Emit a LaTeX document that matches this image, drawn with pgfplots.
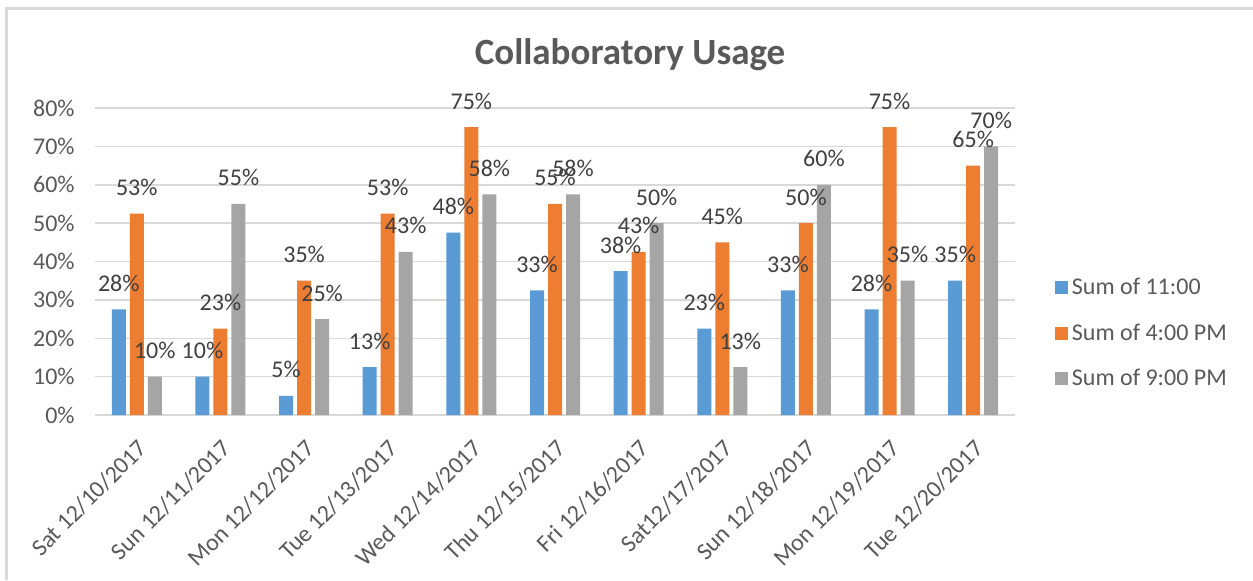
\documentclass[border=0pt]{standalone}
\usepackage{fontspec}
\setmainfont{Carlito}
\usepackage{pgfplots}
\pgfplotsset{compat=1.18}
\usepackage{pgfplotstable}
\definecolor{cblue}{HTML}{5B9BD5}
\definecolor{corange}{HTML}{ED7D31}
\definecolor{cgray}{HTML}{A5A5A5}
\definecolor{gridc}{HTML}{D9D9D9}
\definecolor{tickc}{HTML}{595959}
\definecolor{labc}{HTML}{404040}
\pgfplotstableread{
x a b c
0 27.5 52.5 10
1 10 22.5 55
2 5 35 25
3 12.5 52.5 42.5
4 47.5 75 57.5
5 32.5 55 57.5
6 37.5 42.5 50
7 22.5 45 12.5
8 32.5 50 60
9 27.5 75 35
10 35 65 70
}\data
\begin{document}
\begin{tikzpicture}
\path[use as bounding box] (0pt,0pt) rectangle (626.5pt,290pt);
\draw[gridc, line width=1.2pt] (3.25pt,0pt) -- (3.25pt,285.75pt) -- (626.5pt,285.75pt);
\node[font=\fontsize{18.5}{22}\selectfont\bfseries, text=tickc] at (315pt,262.5pt) {Collaboratory Usage};
\begin{axis}[
  at={(47.5pt,82.5pt)}, anchor=south west,
  scale only axis, width=460pt, height=153.5pt,
  ybar=2pt, bar width=7pt,
  xmin=-0.5, xmax=10.5, ymin=0, ymax=80,
  xtick=data,
  xticklabels={Sat 12/10/2017, Sun 12/11/2017, Mon 12/12/2017, Tue 12/13/2017, Wed 12/14/2017, Thu 12/15/2017, Fri 12/16/2017, Sat12/17/2017, Sun 12/18/2017, Mon 12/19/2017, Tue 12/20/2017},
  ytick={0,10,...,80},
  yticklabels={0\%,10\%,20\%,30\%,40\%,50\%,60\%,70\%,80\%},
  major tick length=0pt,
  axis line style={draw=none},
  ymajorgrids, grid style={gridc, line width=0.75pt},
  tick label style={font=\fontsize{12}{14}\selectfont, text=tickc},
  yticklabel style={inner sep=0pt, xshift=-10pt},
  xticklabel style={rotate=45, anchor=east, inner sep=0pt, xshift=-8pt, yshift=-12.5pt},
  nodes near coords={\pgfmathprintnumber[fixed,precision=0,assume math mode=true]{\pgfplotspointmeta}\%},
  every node near coord/.append style={font=\fontsize{12}{14}\selectfont, text=labc, anchor=base, inner sep=0pt, yshift=9pt},
  legend style={at={(1.043,0.266)}, anchor=west, draw=none, fill=none, font=\fontsize{12}{14}\selectfont, text=tickc, row sep=9pt, inner sep=0pt},
  legend cell align=left,
  legend image code/.code={\fill[#1] (0pt,-3.25pt) rectangle (6.5pt,3.25pt);},
]
\addplot[fill=cblue, draw=none] table[x=x,y=a] {\data};
\addplot[fill=corange, draw=none] table[x=x,y=b] {\data};
\addplot[fill=cgray, draw=none] table[x=x,y=c] {\data};
\legend{Sum of 11:00, Sum of 4:00 PM, Sum of 9:00 PM}
\end{axis}
\end{tikzpicture}
\end{document}
